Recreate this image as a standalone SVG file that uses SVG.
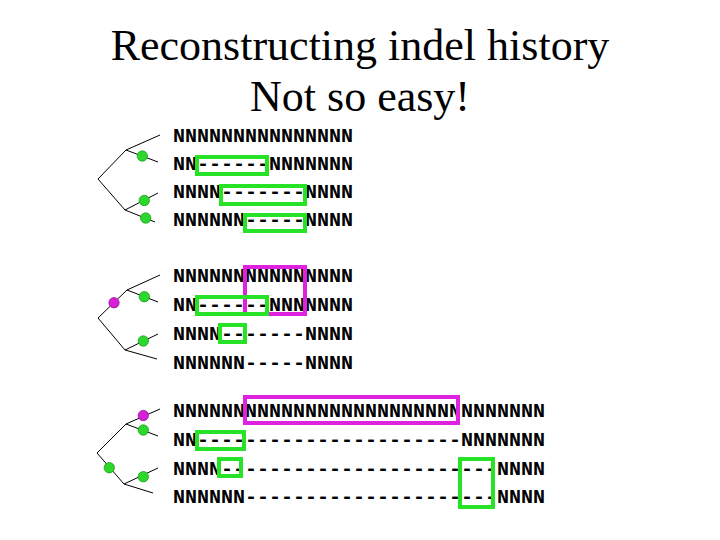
<svg xmlns="http://www.w3.org/2000/svg" width="720" height="540" viewBox="0 0 720 540">
<style>
.title{font-family:"Liberation Serif","Times New Roman",serif;font-size:44px;fill:#000;text-anchor:middle}
.seq{font-family:"Courier New","Nimbus Mono PS","Liberation Mono",monospace;font-size:20px;font-weight:bold;fill:#000;white-space:pre}
.br{stroke:#000;stroke-width:1;fill:none}
.g{fill:#2bd82b;stroke:#149414;stroke-width:0.7}
.m{fill:#d81fd8;stroke:#8a108a;stroke-width:0.7}
.gb{fill:none;stroke:#27e327;stroke-width:4}
.mb{fill:none;stroke:#df22df;stroke-width:4}
</style>
<rect width="720" height="540" fill="#fff"/>
<g id="title">
<text class="title" x="360" y="60">Reconstructing indel history</text>
<text class="title" x="360" y="111">Not so easy!</text>
</g>
<g id="connectors">
<path class="br" d="M98,179 L126,150 L160,135 M126,150 L158,162 M98,179 L125,210 L158,193 M125,210 L155,222"/>
<path class="br" d="M98,318 L127,290 L160,275 M127,290 L158,302 M98,318 L125,350 L158,334 M125,350 L157,359"/>
<path class="br" d="M97,453 L126,424 L160,409 M126,424 L158,436 M97,453 L124,484 L158,468 M124,484 L153,493"/>
</g>
<g id="tree1-nodes">
<circle id="t1n1" class="g" cx="142.3" cy="156" r="5.2"/>
<circle id="t1n2" class="g" cx="144.3" cy="200.5" r="5.2"/>
<circle id="t1n3" class="g" cx="145.7" cy="218" r="5.2"/>
</g>
<g id="tree2-nodes">
<circle id="t2n1" class="m" cx="114" cy="302.7" r="5.2"/>
<circle id="t2n2" class="g" cx="144.3" cy="296.7" r="5.2"/>
<circle id="t2n3" class="g" cx="143.3" cy="341" r="5.2"/>
</g>
<g id="tree3-nodes">
<circle id="t3n1" class="m" cx="143.3" cy="415.5" r="5.2"/>
<circle id="t3n2" class="g" cx="143.3" cy="430" r="5.2"/>
<circle id="t3n3" class="g" cx="109.3" cy="467.7" r="5.2"/>
<circle id="t3n4" class="g" cx="143.3" cy="476.7" r="5.2"/>
</g>
<g id="block1">
<text class="seq" x="173" y="142">NNNNNNNNNNNNNNN</text>
<text class="seq" x="173" y="170">NN------NNNNNNN</text>
<text class="seq" x="173" y="198">NNNN-------NNNN</text>
<text class="seq" x="173" y="226">NNNNNN-----NNNN</text>
<rect class="gb" x="197" y="157" width="70" height="17"/>
<rect class="gb" x="221" y="186" width="84" height="18"/>
<rect class="gb" x="245" y="215" width="60" height="16"/>
</g>
<g id="block2">
<text class="seq" x="173" y="282">NNNNNNNNNNNNNNN</text>
<text class="seq" x="173" y="311">NN------NNNNNNN</text>
<text class="seq" x="173" y="340">NNNN-------NNNN</text>
<text class="seq" x="173" y="369">NNNNNN-----NNNN</text>
<rect class="mb" x="245" y="267" width="60" height="47"/>
<rect class="gb" x="197" y="297" width="70" height="17"/>
<rect class="gb" x="220" y="325" width="25" height="17"/>
</g>
<g id="block3">
<text class="seq" x="173" y="417">NNNNNNNNNNNNNNNNNNNNNNNNNNNNNNN</text>
<text class="seq" x="173" y="446">NN----------------------NNNNNNN</text>
<text class="seq" x="173" y="475">NNNN-----------------------NNNN</text>
<text class="seq" x="173" y="503">NNNNNN---------------------NNNN</text>
<rect class="mb" x="245" y="397" width="213" height="26"/>
<rect class="gb" x="197" y="432" width="47" height="17"/>
<rect class="gb" x="219" y="459" width="22" height="17"/>
<rect class="gb" x="460" y="459" width="33" height="48"/>
</g>
</svg>
